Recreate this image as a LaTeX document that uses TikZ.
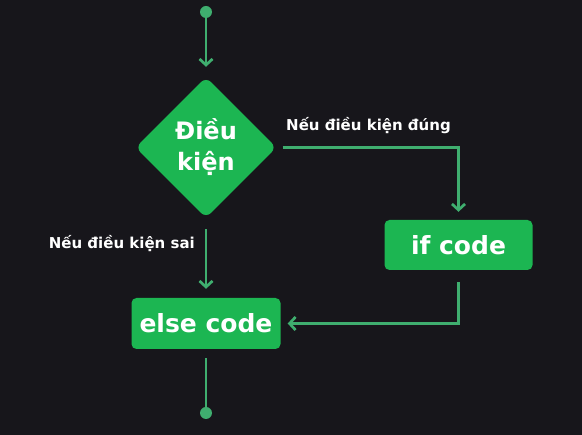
\documentclass[tikz,border=0pt]{standalone}
\usepackage{fontspec}
\setmainfont{DejaVu Sans}
\usetikzlibrary{shapes.geometric,arrows.meta}

\newlength{\du}
\setlength{\du}{1pt}

\definecolor{bgcolor}{HTML}{17161B}
\definecolor{boxcolor}{HTML}{1CB652}
\definecolor{linecolor}{HTML}{3FAE6F}

\tikzset{
  boxnode/.style={rectangle, rounded corners=5\du, fill=boxcolor, text=white,
    font=\fontsize{25}{30}\selectfont\bfseries, inner sep=0pt},
  condnode/.style={diamond, rounded corners=7\du, fill=boxcolor, text=white,
    font=\fontsize{24}{31}\selectfont\bfseries, align=center, inner sep=0pt,
    minimum width=141\du, minimum height=141\du},
  dotnode/.style={circle, fill=linecolor, inner sep=0pt, minimum size=12\du},
  labelnode/.style={text=white, font=\fontsize{15}{18}\selectfont\bfseries, inner sep=0pt},
  flow/.style={draw=linecolor, line width=2.7pt,
    -{Straight Barb[length=6pt,width=13pt]}},
  plainflow/.style={draw=linecolor, line width=2.7pt}
}

\begin{document}
\begin{tikzpicture}[yscale=-1]
% background
\fill[bgcolor] (0,0) rectangle (582\du,435\du);
\useasboundingbox (0,0) rectangle (582\du,435\du);

% nodes
\node[dotnode] (start) at (206\du,12\du) {};
\node[condnode] (cond) at (206\du,147.5\du) {Điều\\kiện};
\node[boxnode, minimum width=148\du, minimum height=50\du] (ifcode) at (458.5\du,245\du) {if code};
\node[boxnode, minimum width=149\du, minimum height=51\du] (elsecode) at (206\du,323.5\du) {else code};
\node[dotnode] (stop) at (206\du,413\du) {};

% labels
\node[labelnode, anchor=west] (yeslabel) at (286\du,126\du) {Nếu điều kiện đúng};
\node[labelnode, anchor=east] (nolabel) at (195\du,244\du) {Nếu điều kiện sai};

% connectors
\draw[flow, shorten >=10pt] (start) -- (cond.north);
\draw[flow, shorten <=6pt, shorten >=8pt] (cond.east) -| (ifcode.north);
\draw[flow, shorten <=11pt, shorten >=9pt] (cond.south) -- (elsecode.north);
\draw[flow, shorten <=12pt, shorten >=7pt] (ifcode.south) |- (elsecode.east);
\draw[plainflow, shorten <=9pt] (elsecode.south) -- (stop);
\end{tikzpicture}
\end{document}
